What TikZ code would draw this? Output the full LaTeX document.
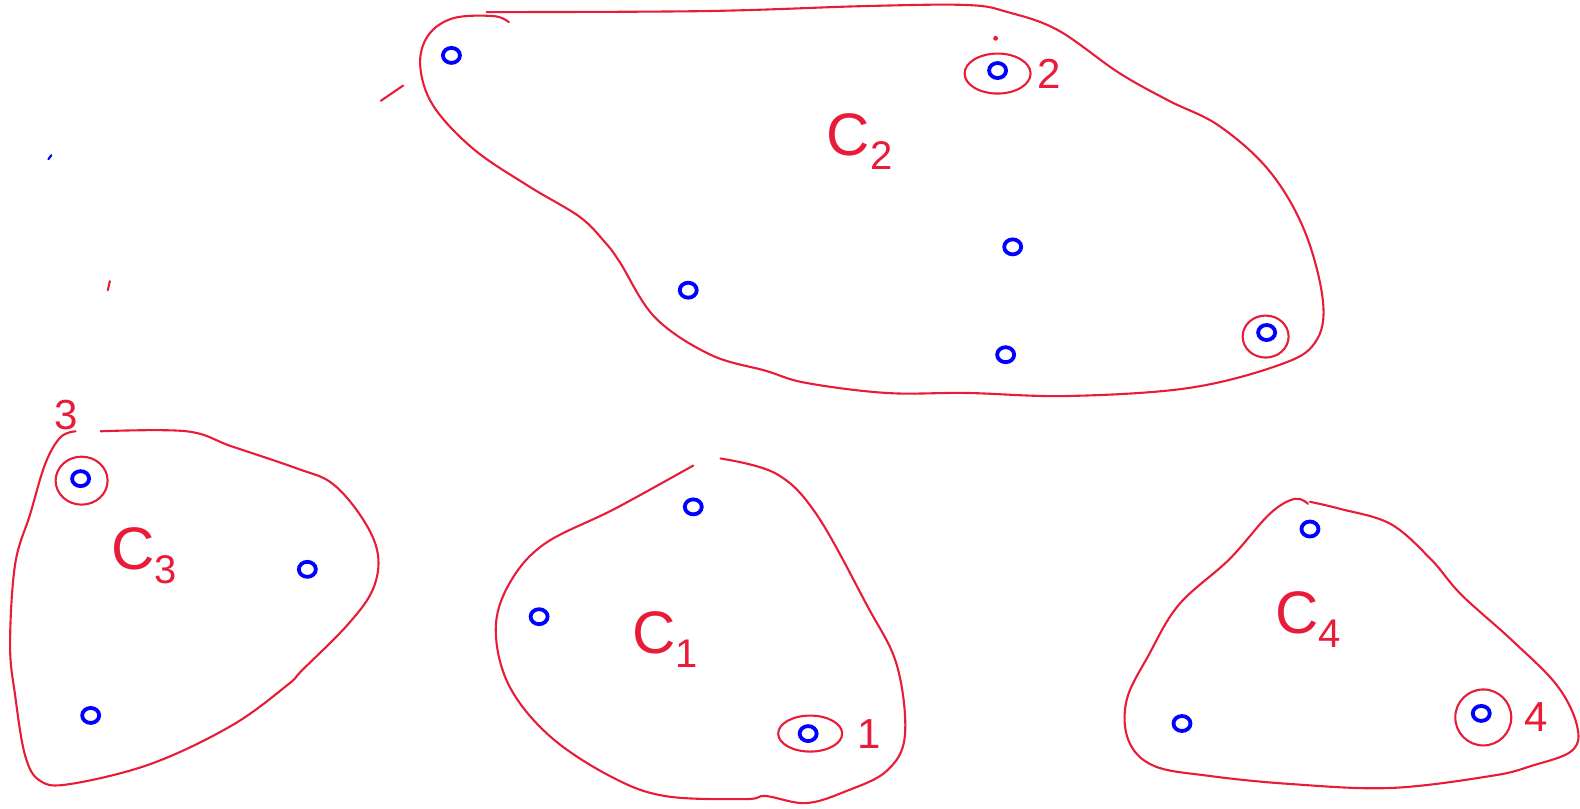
\documentclass[tikz,border=0pt]{standalone}
\usepackage{fontspec}
\setmainfont{Liberation Sans}
\usepackage{xcolor}
\usetikzlibrary{positioning,shapes.geometric}
\definecolor{penred}{RGB}{232,28,56}
\definecolor{penblue}{RGB}{0,0,255}
\newcommand{\clab}[1]{{\fontsize{30}{30}\selectfont C}{\fontsize{20}{20}\selectfont\raisebox{-7pt}{#1}}}

\begin{document}
\begin{tikzpicture}[
  x=0.5039pt, y=-0.5039pt,
  node distance=4mm and 4mm,
  blob/.style={draw=penred, line width=1.05pt, line cap=round, line join=round},
  pt/.style={draw=penblue, ellipse, line width=1.9pt, inner sep=0pt, minimum width=8.5pt, minimum height=7.5pt},
  ring/.style={draw=penred, ellipse, line width=1.05pt, inner sep=0pt},
  num/.style={text=penred, font=\fontsize{21}{21}\selectfont, inner sep=0pt},
  clabel/.style={text=penred, inner sep=0pt},
  scrap/.style={line width=1.05pt, line cap=round}
]
\useasboundingbox (0,0) rectangle (1568,802);

% cluster C2
\draw[blob] plot[smooth, tension=0.6] coordinates {(483,12) (700,11) (860,6) (960,5) (1000,12) (1050,30) (1110,72)
  (1160,100) (1210,125) (1260,170) (1295,230) (1313,300) (1305,340) (1270,362) (1180,385) (1060,393) (960,390)
  (880,390) (800,380) (760,368) (705,352) (650,315) (615,260) (600,240) (575,215) (525,185) (470,148) (430,105)
  (417,65) (425,35) (450,18) (490,16) (505,22)};
\node[pt] (a1) at (448,55) {};
\node[pt] (a2) at (990,70) {};
\node[pt] (a3) at (1005,245) {};
\node[pt] (a4) at (683,288) {};
\node[pt] (a5) at (998,352) {};
\node[pt] (a6) at (1257,330) {};
\node[ring, minimum width=33pt, minimum height=20pt] (r2) at (990,73) {};
\node[ring, minimum width=23pt, minimum height=21pt] (r6) at (1256,334) {};
\fill[penred] (988,38) circle (1.2pt);
\node[num, right=1mm of r2] (n2) {2};
\node[clabel] (c2) at (853,140) {\clab{2}};

% cluster C3
\draw[blob] plot[smooth, tension=0.6] coordinates {(100,428) (185,428) (230,443) (295,465) (330,480) (360,515)
  (375,550) (370,585) (345,620) (300,665) (285,680) (230,720) (150,758) (70,778) (40,775) (25,750) (15,690)
  (10,640) (15,560) (30,510) (45,460) (60,434) (75,428)};
\node[pt] (b1) at (80,475) {};
\node[pt] (b2) at (305,565) {};
\node[pt] (b3) at (90,710) {};
\node[ring, minimum width=26pt, minimum height=24pt] (r3) at (81,477) {};
\node[num] (n3) at (66,412) {3};
\node[clabel] (c3) at (143,552) {\clab{3}};

% cluster C1
\draw[blob] plot[smooth, tension=0.6] coordinates {(688,462) (610,505) (540,540) (505,580) (492,625) (505,680)
  (545,730) (605,770) (660,790) (740,793) (760,790) (800,797) (840,785) (880,765) (898,730) (890,660) (860,600)
  (810,510) (770,470) (715,455)};
\node[pt] (d1) at (688,503) {};
\node[pt] (d2) at (535,612) {};
\node[pt] (d3) at (802,728) {};
\node[ring, minimum width=32pt, minimum height=18pt] (r1) at (804,728) {};
\node[num, right=2.5mm of r1] (n1) {1};
\node[clabel] (c1) at (660,635) {\clab{1}};

% cluster C4
\draw[blob] plot[smooth, tension=0.6] coordinates {(1300,498) (1330,505) (1380,520) (1420,555) (1450,590)
  (1500,635) (1545,680) (1565,720) (1560,745) (1520,760) (1480,770) (1380,782) (1280,778) (1200,770) (1145,760)
  (1120,735) (1118,695) (1140,650) (1170,600) (1220,555) (1260,510) (1285,495) (1298,500)};
\node[pt] (e1) at (1300,525) {};
\node[pt] (e2) at (1173,718) {};
\node[pt] (e3) at (1470,708) {};
\node[ring, minimum width=28pt, minimum height=28pt] (r4) at (1472,712) {};
\node[num, right=2mm of r4] (n4) {4};
\node[clabel] (c4) at (1298,615) {\clab{4}};

% stray strokes
\draw[scrap, penred] (378,100) -- (400,85);
\draw[scrap, penblue] (48,158) -- (51,154);
\draw[scrap, penred] (107,288) -- (109,279);
\end{tikzpicture}
\end{document}
